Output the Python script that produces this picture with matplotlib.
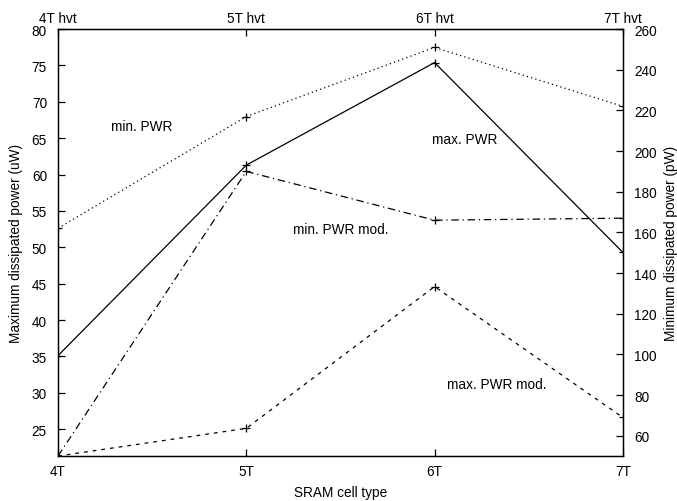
import matplotlib
matplotlib.use("Agg")
import matplotlib.pyplot as plt

plt.rcParams['font.family'] = ['Liberation Sans', 'DejaVu Sans']
plt.rcParams['font.size'] = 9.8

cells = ['4T', '5T', '6T', '7T']
cells_hvt = ['4T hvt', '5T hvt', '6T hvt', '7T hvt']

# maximum dissipated power (uW), left axis
max_pwr = [35.1, 61.3, 75.4, 49.3]
max_pwr_mod = [21.3, 25.1, 44.6, 26.6]

# minimum dissipated power (pW), right axis
min_pwr = [162, 217, 251, 222]
min_pwr_mod = [50, 190, 166, 167]

x = list(range(len(cells)))

fig = plt.figure(figsize=(6.77, 5.02), dpi=100)
ax = fig.add_axes([0.0857, 0.0896, 0.8343, 0.8504])
ax2 = ax.twinx()

lw = 0.9
ax.plot(x, max_pwr, color='black', lw=lw, marker='+', ms=6, mew=0.9)
ax.plot(x, max_pwr_mod, color='black', lw=lw, marker='+', ms=6, mew=0.9,
        dashes=(3, 4))
ax2.plot(x, min_pwr, color='black', lw=lw, marker='+', ms=6, mew=0.9,
         dashes=(1, 2.5))
ax2.plot(x, min_pwr_mod, color='black', lw=lw, marker='+', ms=6, mew=0.9,
         dashes=(6, 3, 1, 3))

ax.set_xlim(0, 3)
ax.set_ylim(21.3, 80)
ax2.set_ylim(50, 260)

ax.set_xticks(x)
ax.set_xticklabels(cells)
ax.set_yticks(range(25, 81, 5))
ax2.set_yticks(range(60, 261, 20))

top = ax.secondary_xaxis('top')
top.set_xticks(x)
top.set_xticklabels(cells_hvt)
top.tick_params(direction='in', length=5, width=0.9, pad=3)

ax.tick_params(direction='in', length=5, width=0.9)
ax.tick_params(axis='x', pad=6)
ax.tick_params(axis='y', pad=8)
ax2.tick_params(direction='in', length=5, width=0.9, pad=8)

for a in (ax, ax2):
    for s in a.spines.values():
        s.set_linewidth(0.9)

ax.set_xlabel('SRAM cell type', labelpad=5)
ax.set_ylabel('Maximum dissipated power (uW)', labelpad=6)
ax2.set_ylabel('Minimum dissipated power (pW)', labelpad=5)

ax.text(0.446, 66.7, 'min. PWR', ha='center', va='center')
ax.text(2.16, 64.9, 'max. PWR', ha='center', va='center')
ax.text(1.50, 52.5, 'min. PWR mod.', ha='center', va='center')
ax.text(2.33, 31.2, 'max. PWR mod.', ha='center', va='center')

fig.savefig('out.png', dpi=100)
